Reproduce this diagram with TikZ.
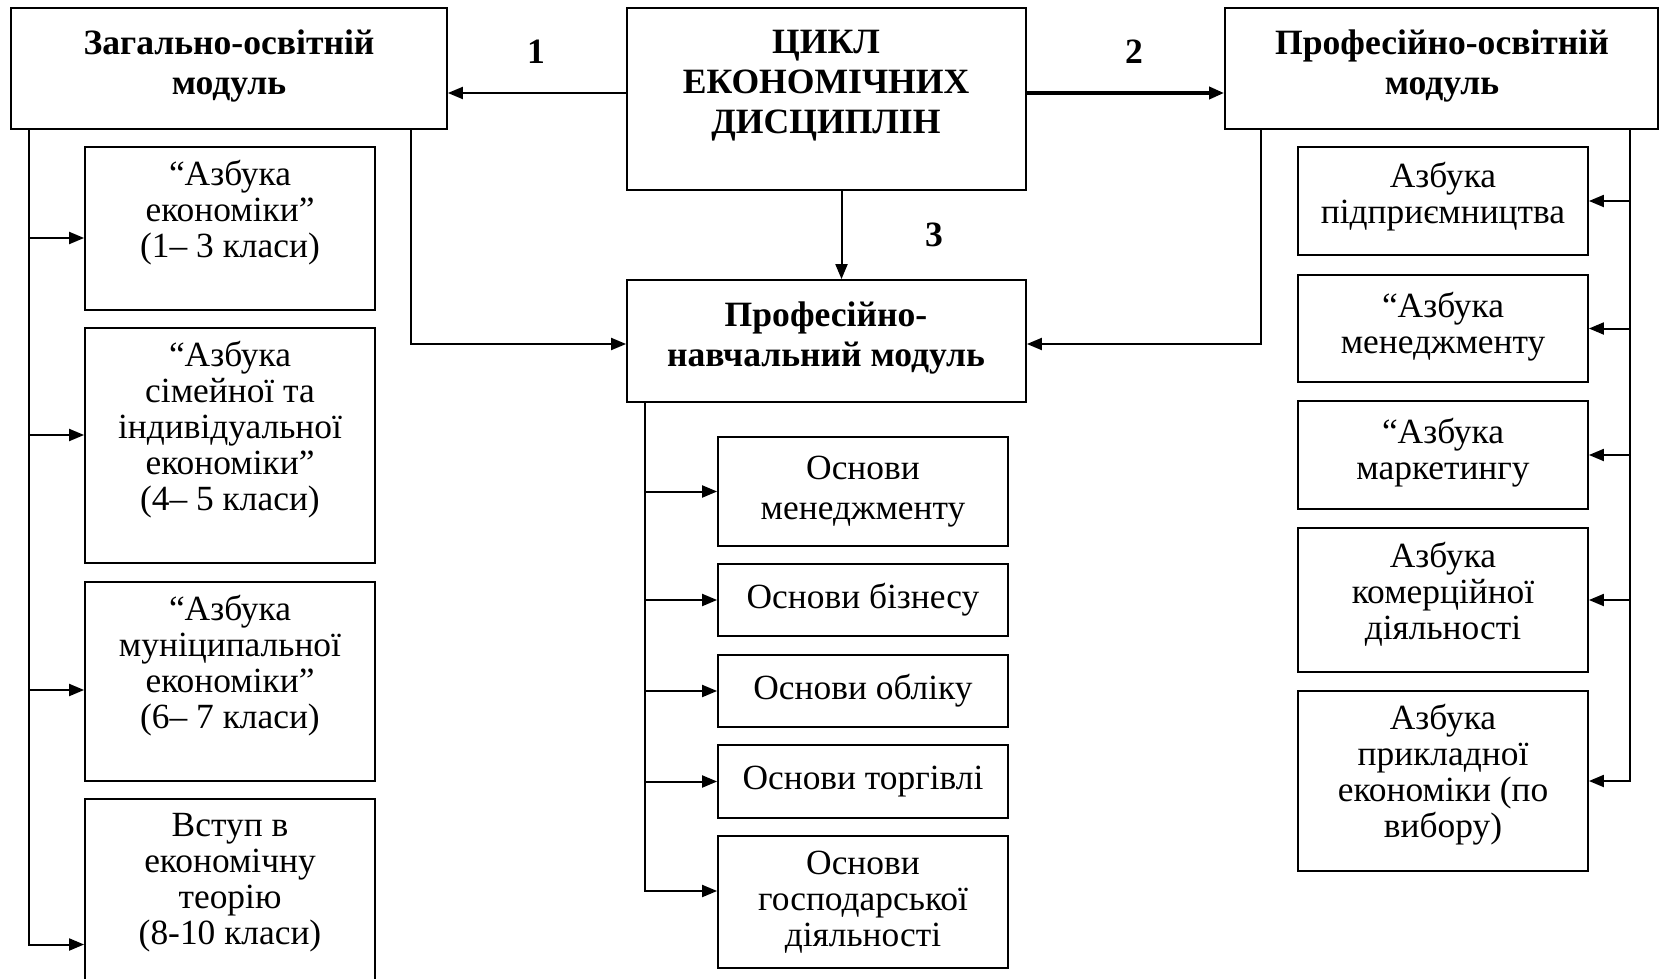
\documentclass[tikz,border=0pt]{standalone}
\usepackage{fontspec}
\setmainfont{Liberation Serif}
\usetikzlibrary{arrows.meta,fit}
\tikzset{
 box/.style={draw, line width=0.9pt, inner sep=0pt},
 txt/.style={align=center, inner sep=0pt, font=\fontsize{17.7}{18}\selectfont},
 ttl/.style={align=center, inner sep=0pt, font=\bfseries\fontsize{17.8}{20}\selectfont},
 num/.style={inner sep=0pt, font=\bfseries\fontsize{17.8}{20}\selectfont},
 conn/.style={line width=1pt},
 arr/.style={conn, -{Triangle[length=7.5pt,width=6pt]}},
}
\begin{document}
\begin{tikzpicture}[x=0.5pt,y=-0.5pt]
\useasboundingbox (0,0) rectangle (1659,979);
\clip (0,0) rectangle (1659,979);
% top row
\node[box, fit={(11,8) (447,129)}] (Zag) {};
\node[ttl] (ZagT) at (229,66) {Загально-освітній\\модуль};
\node[box, fit={(627,8) (1026,190)}] (C) {};
\node[ttl] (CT) at (826,86) {ЦИКЛ\\ЕКОНОМІЧНИХ\\ДИСЦИПЛІН};
\node[box, fit={(1225,8) (1658,129)}] (PO) {};
\node[ttl] (POT) at (1442,66) {Професійно-освітній\\модуль};
\node[box, fit={(627,280) (1026,402)}] (PN) {};
\node[ttl] (PNT) at (826,338) {Професійно-\\навчальний модуль};
% numbers
\node[num] (n1) at (536,52) {1};
\node[num] (n2) at (1134,52) {2};
\node[num] (n3) at (934,235) {3};
% left column
\node[box, fit={(85,147) (375,310)}] (L1) {};
\node[txt] (L1T) at (230,213) {“Азбука\\економіки”\\(1– 3 класи)};
\node[box, fit={(85,328) (375,563)}] (L2) {};
\node[txt] (L2T) at (230,430) {“Азбука\\сімейної та\\індивідуальної\\економіки”\\(4– 5 класи)};
\node[box, fit={(85,582) (375,781)}] (L3) {};
\node[txt] (L3T) at (230,666) {“Азбука\\муніципальної\\економіки”\\(6– 7 класи)};
\node[box, fit={(85,799) (375,995)}] (L4) {};
\node[txt] (L4T) at (230,883) {Вступ в\\економічну\\теорію\\(8-10 класи)};
% middle column
\node[box, fit={(718,437) (1008,546)}] (M1) {};
\node[txt, font=\fontsize{17.7}{20}\selectfont] (M1T) at (M1) {Основи\\менеджменту};
\node[box, fit={(718,564) (1008,636)}] (M2) {};
\node[txt] (M2T) at (M2) {Основи бізнесу};
\node[box, fit={(718,655) (1008,727)}] (M3) {};
\node[txt] (M3T) at (M3) {Основи обліку};
\node[box, fit={(718,745) (1008,818)}] (M4) {};
\node[txt] (M4T) at (M4) {Основи торгівлі};
\node[box, fit={(718,836) (1008,968)}] (M5) {};
\node[txt] (M5T) at (M5) {Основи\\господарської\\діяльності};
% right column
\node[box, fit={(1298,147) (1588,255)}] (R1) {};
\node[txt] (R1T) at ([yshift=2pt]R1.center) {Азбука\\підприємництва};
\node[box, fit={(1298,275) (1588,382)}] (R2) {};
\node[txt] (R2T) at ([yshift=1pt]R2.center) {“Азбука\\менеджменту};
\node[box, fit={(1298,401) (1588,509)}] (R3) {};
\node[txt] (R3T) at ([yshift=1pt]R3.center) {“Азбука\\маркетингу};
\node[box, fit={(1298,528) (1588,672)}] (R4) {};
\node[txt] (R4T) at ([yshift=3pt]R4.center) {Азбука\\комерційної\\діяльності};
\node[box, fit={(1298,691) (1588,871)}] (R5) {};
\node[txt] (R5T) at ([yshift=3pt]R5.center) {Азбука\\прикладної\\економіки (по\\вибору)};
% main connectors
\draw[arr] ([yshift=3pt]C.west) -- ([yshift=3pt]C.west -| Zag.east);
\draw[arr, line width=1.8pt] ([yshift=3pt]C.east) -- ([yshift=3pt]C.east -| PO.west);
\draw[arr] ([xshift=7.5pt]C.south) -- ([xshift=7.5pt]C.south |- PN.north);
\draw[arr] ([xshift=-18.5pt]Zag.south east) |- ([yshift=-1.5pt]PN.west);
\draw[conn] ([xshift=-18.5pt,yshift=-1.5pt]Zag.south east |- PN.west) -- ++(0,-6);
\draw[arr] ([xshift=18.5pt]PO.south west) |- ([yshift=-1.5pt]PN.east);
% left tree
\draw[arr] ([xshift=9.5pt]Zag.south west) |- ([yshift=-4.75pt]L1.west);
\draw[arr] ([xshift=9.5pt]Zag.south west) |- ([yshift=5.25pt]L2.west);
\draw[arr] ([xshift=9.5pt]Zag.south west) |- ([yshift=-4.25pt]L3.west);
\draw[arr] ([xshift=9.5pt]Zag.south west) |- ([yshift=-23.75pt]L4.west);
% middle tree
\draw[arr] ([xshift=9.5pt]PN.south west) |- (M1.west);
\draw[arr] ([xshift=9.5pt]PN.south west) |- (M2.west);
\draw[arr] ([xshift=9.5pt]PN.south west) |- (M3.west);
\draw[arr] ([xshift=9.5pt]PN.south west) |- (M4.west);
\draw[arr] ([xshift=9.5pt]PN.south west) |- ([yshift=5.5pt]M5.west);
% right tree
\draw[arr] ([xshift=-14.5pt]PO.south east) |- (R1.east);
\draw[arr] ([xshift=-14.5pt]PO.south east) |- (R2.east);
\draw[arr] ([xshift=-14.5pt]PO.south east) |- (R3.east);
\draw[arr] ([xshift=-14.5pt]PO.south east) |- (R4.east);
\draw[arr] ([xshift=-14.5pt]PO.south east) |- (R5.east);
\end{tikzpicture}
\end{document}
